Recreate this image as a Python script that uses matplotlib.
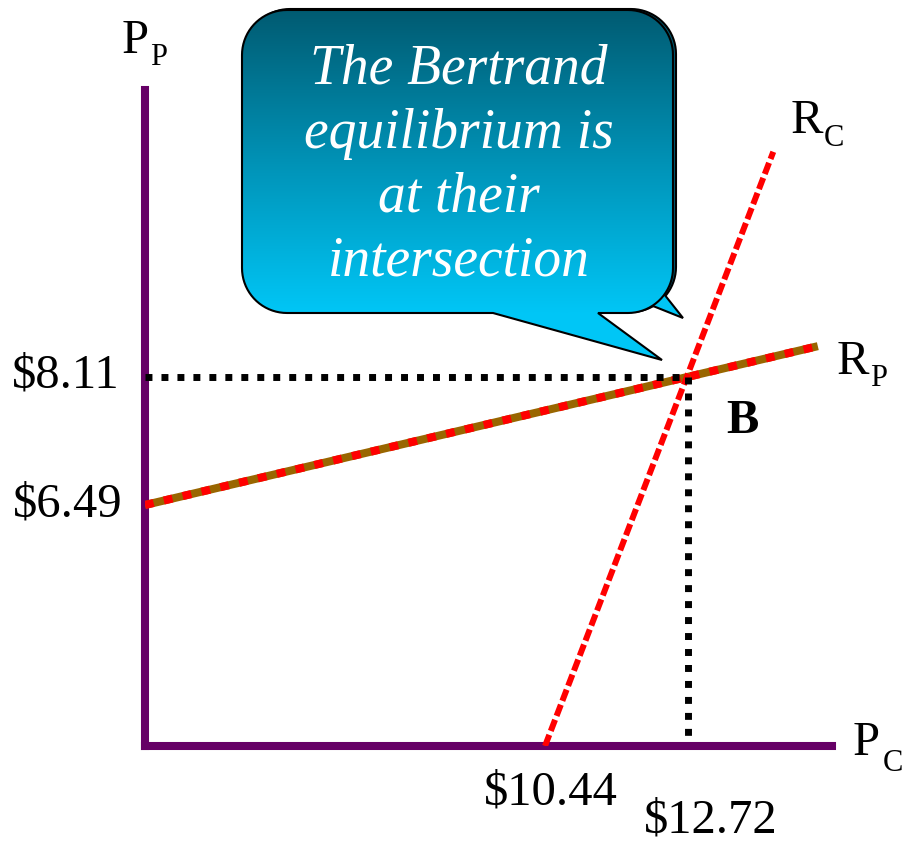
import numpy as np
import matplotlib
matplotlib.use("Agg")
import matplotlib.pyplot as plt
from matplotlib.path import Path
from matplotlib.patches import PathPatch
from matplotlib.colors import LinearSegmentedColormap

plt.rcParams['font.family'] = ['Liberation Serif', 'DejaVu Serif']

# axis ranges of the (schematic) diagram, price of C on x, price of P on y
pc_range = [4.062, 15.016]
pp_range = [3.44, 11.742]

# best-response lines
rp_pc = [4.062, 14.79]     # R_P
rp_pp = [6.49, 8.50]
rc_pc = [10.44, 14.08]     # R_C
rc_pp = [3.44, 10.96]

# Bertrand equilibrium
eq_pc = 12.72
eq_pp = 8.11

x_tick_values = [10.44, 12.72]
x_tick_labels = [r"\$10.44", r"\$12.72"]
y_tick_values = [8.11, 6.49]
y_tick_labels = [r"\$8.11", r"\$6.49"]

bubble_lines = ["The Bertrand", "equilibrium is", "at their", "intersection"]

PURPLE = '#660066'
BROWN = '#996600'
RED = '#ff0000'

fig = plt.figure(figsize=(9.08, 8.42), dpi=100)
ax = fig.add_axes([145 / 908, 96 / 842, 687 / 908, 656 / 842])
ax.set_xlim(pc_range)
ax.set_ylim(pp_range)
ax.set_xticks([])
ax.set_yticks([])
for s in ['top', 'right']:
    ax.spines[s].set_visible(False)
for s in ['left', 'bottom']:
    ax.spines[s].set_color(PURPLE)
    ax.spines[s].set_linewidth(5.8)
    ax.spines[s].set_zorder(1)

# R_P : brown line with red dashes on top
ax.plot(rp_pc, rp_pp, color=BROWN, lw=5.8, solid_capstyle='butt', zorder=3)
ax.plot(rp_pc, rp_pp, color=RED, lw=5.8, dashes=(1.1, 1.3), dash_capstyle='butt', zorder=3)
# R_C : red dashed
ax.plot(rc_pc, rc_pp, color=RED, lw=4.3, dashes=(2.0, 0.7), dash_capstyle='butt', zorder=4)

# dotted guide lines
ax.plot([pc_range[0], eq_pc], [eq_pp, eq_pp], color='black', lw=5.0,
        dashes=(1.0, 1.3), dash_capstyle='butt', zorder=5)
ax.plot([eq_pc, eq_pc], [eq_pp, pp_range[0] + 0.12], color='black', lw=5.0,
        dashes=(1.0, 1.3), dash_capstyle='butt', zorder=5)

FS = 35
SUB = 22

def label(txt, xy, off, size=FS, ha='left', weight='normal'):
    ax.annotate(txt, xy=xy, xycoords='data', xytext=off, textcoords='offset pixels',
                ha=ha, va='baseline', fontsize=size, fontweight=weight,
                annotation_clip=False)

# tick-like labels
label(y_tick_labels[0], (pc_range[0], y_tick_values[0]), (-25, -11), ha='right')
label(y_tick_labels[1], (pc_range[0], y_tick_values[1]), (-22, -12), ha='right')
label(x_tick_labels[0], (x_tick_values[0], pp_range[0]), (6, -58), ha='center')
label(x_tick_labels[1], (x_tick_values[1], pp_range[0]), (23, -87), ha='center')

# B
label("B", (eq_pc, eq_pp), (54, -56), ha='center', weight='bold')

# line names
label("R", (rc_pc[1], rc_pp[1]), (17, 19))
label("C", (rc_pc[1], rc_pp[1]), (50, 6), size=SUB)
label("R", (rp_pc[1], rp_pp[1]), (19, -28))
label("P", (rp_pc[1], rp_pp[1]), (52, -40), size=SUB)

# axis names
label("P", (pc_range[1], pp_range[0]), (21, -9))
label("C", (pc_range[1], pp_range[0]), (51, -25), size=SUB)
label("P", (pc_range[0], pp_range[1]), (-23, 37))
label("P", (pc_range[0], pp_range[1]), (5, 25), size=SUB)

# speech bubble in a pixel overlay
ov = fig.add_axes([0, 0, 1, 1])
ov.set_xlim(0, 908)
ov.set_ylim(842, 0)
ov.axis('off')


def bubble(x0, y0, x1, y1, r, base_l, base_r, tip):
    def arc(cx, cy, a0, a1):
        t = np.radians(np.linspace(a0, a1, 20))
        return list(zip(cx + r * np.cos(t), cy + r * np.sin(t)))
    pts = []
    pts += arc(x0 + r, y0 + r, 180, 270)
    pts += arc(x1 - r, y0 + r, 270, 360)
    pts += arc(x1 - r, y1 - r, 0, 90)
    if tip is not None:
        pts += [(base_r, y1), tip, (base_l, y1)]
    pts += arc(x0 + r, y1 - r, 90, 180)
    pts.append(pts[0])
    codes = [Path.MOVETO] + [Path.LINETO] * (len(pts) - 2) + [Path.CLOSEPOLY]
    return Path(pts, codes)


top_col = '#005b72'
bot_col = '#00c6f6'

# shadow copy behind
shadow = bubble(245, 9, 676, 312, 45, None, None, None)
ov.add_patch(PathPatch(shadow, facecolor=top_col, edgecolor='black', lw=1.5, zorder=1))
tail2 = Path([(648, 304), (683, 318), (664, 294), (648, 304)])
ov.add_patch(PathPatch(tail2, facecolor=bot_col, edgecolor='black', lw=1.5, zorder=1))

main = bubble(242, 10, 673, 313, 45, 493, 598, (662, 360))
base = PathPatch(main, facecolor=bot_col, edgecolor='none', zorder=2)
ov.add_patch(base)
cmap = LinearSegmentedColormap.from_list('bub', [top_col, '#0092b6', bot_col])
img = ov.imshow(np.linspace(0, 1, 256).reshape(-1, 1), cmap=cmap, aspect='auto',
                extent=(242, 673, 313, 10), origin='upper', interpolation='bilinear', zorder=3)
img.set_clip_path(base)
ov.add_patch(PathPatch(main, facecolor='none', edgecolor='black', lw=1.5, zorder=4))
ov.set_xlim(0, 908)
ov.set_ylim(842, 0)

for i, line in enumerate(bubble_lines):
    ov.text(459, 84 + 64 * i, line, ha='center', va='baseline', color='white',
            fontsize=40, fontstyle='italic', zorder=5)

fig.savefig('out.png', dpi=100)
